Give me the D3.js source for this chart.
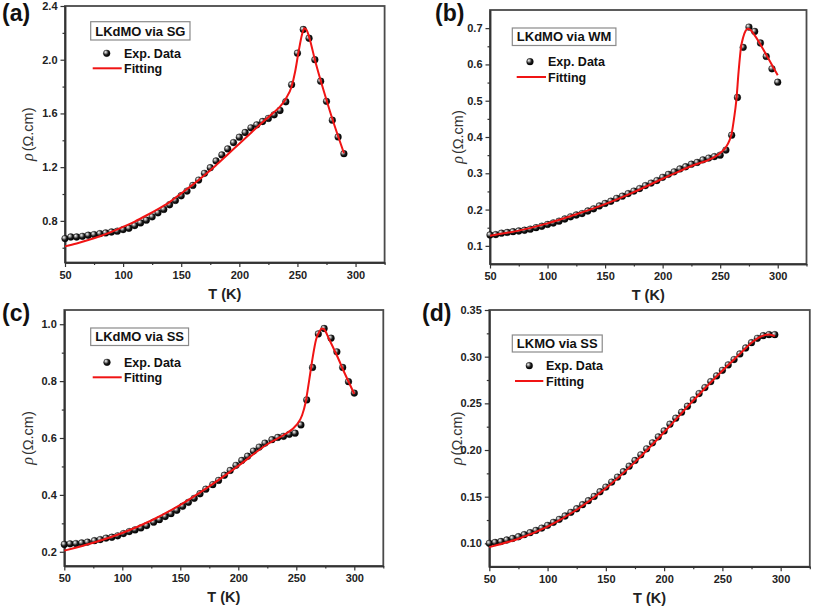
<!DOCTYPE html>
<html>
<head>
<meta charset="utf-8">
<script src="https://cdn.jsdelivr.net/npm/d3@7"></script>
<style>
  body { margin: 0; background: #fff; }
  svg { display: block; font-family: "Liberation Sans", Arial, sans-serif; }
</style>
</head>
<body>
<svg id="chart" width="813" height="609"></svg>
<script>
// ---- data ----
// x axis (shared)
const xMajor = [50, 100, 150, 200, 250, 300];
const xMinor = [75, 125, 175, 225, 275, 325];

// (a) LKdMO via SG
const tA = [50,55,60,65,70,75,80,85,90,95,100,105,110,115,120,125,130,135,140,145,150,155,160,165,170,175,180,185,190,195,200,205,210,215,220,225,230,235,240,245,250,255,260,265,270,275,280,285,290];
const rhoA = [0.668,0.68,0.68,0.685,0.693,0.698,0.705,0.71,0.717,0.723,0.735,0.745,0.765,0.785,0.805,0.83,0.86,0.885,0.92,0.952,0.987,1.022,1.064,1.104,1.154,1.196,1.246,1.291,1.336,1.383,1.423,1.458,1.493,1.515,1.54,1.563,1.59,1.622,1.687,1.814,2.049,2.225,2.16,2.0,1.84,1.69,1.55,1.425,1.30];
const fitTA = [50,60,70,80,90,100,110,120,130,140,150,160,170,180,190,200,210,220,230,235,240,245,248,251,254,256,258,261,265,270,275,280,285,290];
const fitRhoA = [0.61,0.632,0.657,0.685,0.718,0.755,0.795,0.84,0.888,0.94,1.005,1.07,1.14,1.215,1.295,1.375,1.455,1.535,1.61,1.65,1.71,1.80,1.91,2.06,2.19,2.235,2.22,2.14,2.0,1.845,1.70,1.56,1.43,1.305];
const yTicksA = [0.8, 1.2, 1.6, 2.0, 2.4];
const yMinorA = [0.6, 1.0, 1.4, 1.8, 2.2];

// (b) LKdMO via WM
const tB = [50,55,60,65,70,75,80,85,90,95,100,105,110,115,120,125,130,135,140,145,150,155,160,165,170,175,180,185,190,195,200,205,210,215,220,225,230,235,240,245,250,255,260,265,270,275,280,285,290,295,300];
const rhoB = [0.13,0.131,0.135,0.137,0.139,0.141,0.143,0.146,0.150,0.154,0.159,0.163,0.168,0.174,0.180,0.185,0.189,0.196,0.202,0.210,0.217,0.223,0.231,0.237,0.244,0.251,0.258,0.266,0.273,0.280,0.289,0.297,0.304,0.312,0.318,0.325,0.330,0.337,0.342,0.346,0.350,0.364,0.405,0.509,0.647,0.703,0.691,0.659,0.622,0.588,0.551];
const fitTB = [50,75,100,125,150,175,200,225,250,255,258,260,262,264,266,268,270,272,274,276,280,290,300];
const fitRhoB = [0.128,0.142,0.162,0.187,0.215,0.248,0.285,0.32,0.356,0.372,0.39,0.41,0.45,0.50,0.58,0.645,0.675,0.692,0.698,0.696,0.68,0.627,0.57];
const yTicksB = [0.1, 0.2, 0.3, 0.4, 0.5, 0.6, 0.7];
const yMinorB = [0.15, 0.25, 0.35, 0.45, 0.55, 0.65];

// (c) LKdMO via SS
const tC = [50,55,60,65,70,76,81,86,91,96,101,106,111,116,121,127,132,137,142,147,152,157,162,167,172,178,183,188,193,198,203,208,213,218,223,229,234,239,244,249,254,259,264,269,274,280,285,290,295,300];
const rhoC = [0.226,0.228,0.229,0.231,0.234,0.239,0.243,0.248,0.251,0.256,0.264,0.271,0.277,0.284,0.292,0.304,0.313,0.324,0.334,0.346,0.36,0.374,0.388,0.404,0.42,0.436,0.451,0.469,0.486,0.504,0.521,0.536,0.554,0.568,0.582,0.594,0.602,0.606,0.613,0.617,0.646,0.734,0.848,0.966,0.985,0.951,0.903,0.848,0.798,0.758];
const fitTC = [50,75,100,125,150,175,200,225,240,250,255,258,261,264,267,270,272,274,278,285,292,300];
const fitRhoC = [0.204,0.232,0.266,0.31,0.365,0.43,0.502,0.578,0.613,0.645,0.68,0.725,0.80,0.88,0.945,0.975,0.985,0.982,0.95,0.89,0.825,0.755];
const yTicksC = [0.2, 0.4, 0.6, 0.8, 1.0];
const yMinorC = [0.3, 0.5, 0.7, 0.9];

// (d) LKMO via SS
const tD = [50,55,60,65,70,75,80,85,90,95,100,105,110,115,120,125,130,135,140,145,150,155,160,165,170,175,180,185,190,195,200,205,210,215,220,225,230,235,240,245,250,255,260,265,270,275,280,285,290,295];
const rhoD = [0.100,0.101,0.102,0.1036,0.1053,0.1071,0.1093,0.1114,0.1139,0.1164,0.1193,0.1225,0.1257,0.1293,0.1332,0.1371,0.1414,0.1457,0.1503,0.1553,0.1603,0.1657,0.171,0.1767,0.1827,0.1888,0.1949,0.2013,0.2077,0.2141,0.2205,0.2277,0.2341,0.2405,0.2469,0.2537,0.2605,0.2669,0.2733,0.2794,0.2854,0.2912,0.2969,0.3029,0.3093,0.315,0.3197,0.3225,0.3236,0.3236];
const fitTD = [50,75,100,125,150,175,200,225,250,265,275,285,290,295];
const fitRhoD = [0.096,0.105,0.118,0.136,0.159,0.187,0.219,0.253,0.285,0.303,0.315,0.3225,0.3238,0.322];
const yTicksD = [0.10, 0.15, 0.20, 0.25, 0.30, 0.35];
const yMinorD = [0.125, 0.175, 0.225, 0.275, 0.325];

// ---- layout of the four panels ----
const panels = [
  { label: "(a)", labelX: 2, labelY: 21, title: "LKdMO via SG",
    t: tA, rho: rhoA, fitT: fitTA, fitRho: fitRhoA, yDomain: [0.49, 2.4],
    yTicks: yTicksA, yMinor: yMinorA, fmt: d3.format(".1f"),
    left: 65, right: 384.6, top: 6, bottom: 262.5, yTitleX: 28,
    boxX: 90.7, boxY: 21.7, boxH: 18.3, dotX: 106.7, dotY: 53.3, textX: 124, lineX0: 92.7, lineX1: 121.7, lineY: 68.3 },
  { label: "(b)", labelX: 435, labelY: 21, title: "LKdMO via WM",
    t: tB, rho: rhoB, fitT: fitTB, fitRho: fitRhoB, yDomain: [0.05, 0.75],
    yTicks: yTicksB, yMinor: yMinorB, fmt: d3.format(".1f"),
    left: 490, right: 806.5, top: 10, bottom: 264, yTitleX: 458,
    boxX: 512.3, boxY: 28, boxH: 17.5, dotX: 530, dotY: 61.7, textX: 548, lineX0: 516.7, lineX1: 546, lineY: 77 },
  { label: "(c)", labelX: 2, labelY: 321, title: "LKdMO via SS",
    t: tC, rho: rhoC, fitT: fitTC, fitRho: fitRhoC, yDomain: [0.15, 1.05],
    yTicks: yTicksC, yMinor: yMinorC, fmt: d3.format(".1f"),
    left: 64.3, right: 383.3, top: 310, bottom: 566, yTitleX: 28,
    boxX: 90.7, boxY: 328, boxH: 17.5, dotX: 107, dotY: 362.3, textX: 124, lineX0: 92.7, lineX1: 121.7, lineY: 377.3 },
  { label: "(d)", labelX: 422, labelY: 321, title: "LKMO via SS",
    t: tD, rho: rhoD, fitT: fitTD, fitRho: fitRhoD, yDomain: [0.075, 0.35],
    yTicks: yTicksD, yMinor: yMinorD, fmt: d3.format(".2f"),
    left: 489.3, right: 809.8, top: 310, bottom: 566.7, yTitleX: 456.5,
    boxX: 512.3, boxY: 335, boxH: 17, dotX: 529.3, dotY: 365.7, textX: 546, lineX0: 515, lineX1: 543.3, lineY: 381 }
];

const svg = d3.select("#chart");

// shaded ball marker
const grad = svg.append("defs").append("radialGradient")
  .attr("id", "ball").attr("cx", "40%").attr("cy", "40%").attr("r", "60%")
  .attr("fx", "32%").attr("fy", "30%");
grad.append("stop").attr("offset", "0%").attr("stop-color", "#ffffff");
grad.append("stop").attr("offset", "28%").attr("stop-color", "#a0a0a0");
grad.append("stop").attr("offset", "62%").attr("stop-color", "#1c1c1c");
grad.append("stop").attr("offset", "100%").attr("stop-color", "#000000");

const RED = "#f01414";
const R = 3.4;

function styleAxis(sel, major) {
  sel.select(".domain").attr("stroke", "#333").attr("stroke-width", 1.5);
  sel.selectAll(".tick line").attr("stroke", "#333").attr("stroke-width", 1.2);
  if (major) {
    sel.selectAll(".tick text")
      .attr("fill", "#222").style("font-size", "11px").style("font-weight", "bold");
  }
}

panels.forEach(p => {
  const x = d3.scaleLinear().domain([50, 325]).range([p.left, p.right]);
  const y = d3.scaleLinear().domain(p.yDomain).range([p.bottom, p.top]);
  const g = svg.append("g");

  // frame
  g.append("rect")
    .attr("x", p.left).attr("y", p.top)
    .attr("width", p.right - p.left).attr("height", p.bottom - p.top)
    .attr("fill", "none").attr("stroke", "#4a4a4a").attr("stroke-width", 1.8);

  // x axis, major + minor
  g.append("g").attr("transform", `translate(0,${p.bottom})`)
    .call(d3.axisBottom(x).tickValues(xMinor).tickSize(2.5).tickSizeOuter(0).tickFormat(""))
    .call(s => styleAxis(s, false));
  g.append("g").attr("transform", `translate(0,${p.bottom})`)
    .call(d3.axisBottom(x).tickValues(xMajor).tickSize(4.5).tickSizeOuter(0).tickPadding(4).tickFormat(d3.format("d")))
    .call(s => styleAxis(s, true));

  // y axis, major + minor
  g.append("g").attr("transform", `translate(${p.left},0)`)
    .call(d3.axisLeft(y).tickValues(p.yMinor).tickSize(2.5).tickSizeOuter(0).tickFormat(""))
    .call(s => styleAxis(s, false));
  g.append("g").attr("transform", `translate(${p.left},0)`)
    .call(d3.axisLeft(y).tickValues(p.yTicks).tickSize(4.5).tickSizeOuter(0).tickPadding(3).tickFormat(p.fmt))
    .call(s => styleAxis(s, true));

  // axis titles
  g.append("text")
    .attr("x", (p.left + p.right) / 2).attr("y", p.bottom + 36)
    .attr("text-anchor", "middle").attr("fill", "#222")
    .style("font-size", "14.5px").style("font-weight", "bold")
    .text("T (K)");
  const yt = g.append("text")
    .attr("transform", `translate(${p.yTitleX},${(p.top + p.bottom) / 2}) rotate(-90)`)
    .attr("text-anchor", "middle").attr("dy", "0.35em").attr("fill", "#333")
    .style("font-size", "14.5px");
  yt.append("tspan").style("font-style", "italic")
    .style("font-family", "'Liberation Serif', 'DejaVu Serif', serif").style("font-size", "16px").text("ρ");
  yt.append("tspan").attr("dx", 2).text("(Ω.cm)");

  // experimental points
  g.selectAll("circle.pt")
    .data(p.t.map((t, i) => [t, p.rho[i]]))
    .join("circle").attr("class", "pt")
    .attr("cx", d => x(d[0])).attr("cy", d => y(d[1]))
    .attr("r", R).attr("fill", "url(#ball)")
    .attr("stroke", "#000").attr("stroke-width", 0.3);

  // fitting curve, drawn over the points
  const fit = p.fitT.map((t, i) => [t, p.fitRho[i]]);
  g.append("path")
    .datum(fit)
    .attr("fill", "none").attr("stroke", RED).attr("stroke-width", 2)
    .attr("stroke-linejoin", "round")
    .attr("d", d3.line().x(d => x(d[0])).y(d => y(d[1])).curve(d3.curveMonotoneX));

  // legend: title box
  const box = g.append("rect")
    .attr("x", p.boxX).attr("y", p.boxY).attr("height", p.boxH)
    .attr("fill", "#fff").attr("stroke", "#8a8a8a").attr("stroke-width", 1.2);
  const title = g.append("text")
    .attr("x", p.boxX + 4.5).attr("y", p.boxY + p.boxH / 2)
    .attr("dy", "0.36em").attr("fill", "#111")
    .style("font-size", "13px").style("font-weight", "bold")
    .text(p.title);
  box.attr("width", title.node().getComputedTextLength() + 9);

  // legend entries
  g.append("circle")
    .attr("cx", p.dotX).attr("cy", p.dotY).attr("r", R)
    .attr("fill", "url(#ball)").attr("stroke", "#000").attr("stroke-width", 0.3);
  g.append("text")
    .attr("x", p.textX).attr("y", p.dotY).attr("dy", "0.36em").attr("fill", "#111")
    .style("font-size", "12.5px").style("font-weight", "bold")
    .text("Exp. Data");
  g.append("line")
    .attr("x1", p.lineX0).attr("x2", p.lineX1).attr("y1", p.lineY).attr("y2", p.lineY)
    .attr("stroke", RED).attr("stroke-width", 2);
  g.append("text")
    .attr("x", p.textX).attr("y", p.lineY).attr("dy", "0.36em").attr("fill", "#111")
    .style("font-size", "12.5px").style("font-weight", "bold")
    .text("Fitting");

  // panel label
  svg.append("text")
    .attr("x", p.labelX).attr("y", p.labelY).attr("fill", "#111")
    .style("font-size", "23px").style("font-weight", "bold")
    .text(p.label);
});
</script>
</body>
</html>
